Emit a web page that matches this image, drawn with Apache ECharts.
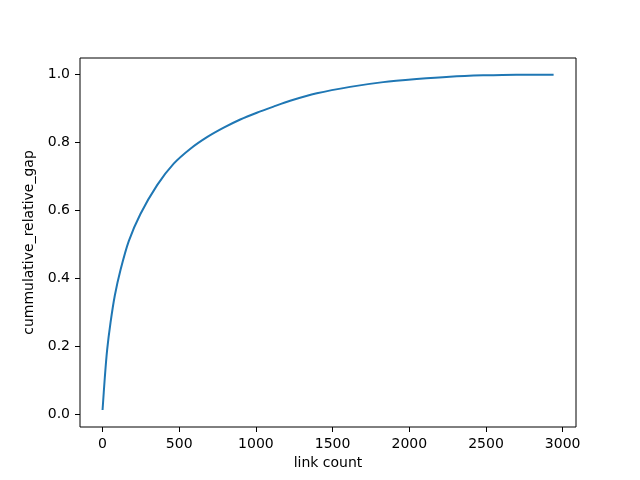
<!DOCTYPE html>
<html>
<head>
<meta charset="utf-8">
<script src="https://cdn.jsdelivr.net/npm/echarts@6/dist/echarts.min.js"></script>
<style>
  html, body { margin: 0; padding: 0; background: #fff; }
  #chart { width: 640px; height: 480px; }
</style>
</head>
<body>
<div id="chart"></div>
<script>
// 曲线数据 (link count -> cummulative_relative_gap)
var linkCount = [0, 15, 30, 52, 80, 117, 171, 247, 356, 464, 573, 681, 790, 898, 1006, 1115, 1223, 1397, 1614, 1830, 2048, 2264, 2481, 2698, 2941];
var relGap = [0.013, 0.11, 0.19, 0.27, 0.35, 0.425, 0.51, 0.59, 0.675, 0.738, 0.782, 0.816, 0.844, 0.868, 0.888, 0.906, 0.923, 0.945, 0.964, 0.978, 0.987, 0.994, 0.998, 1.0, 1.0];
var xTicks = [0, 500, 1000, 1500, 2000, 2500, 3000];
var yTicks = [0, 0.2, 0.4, 0.6, 0.8, 1.0];

var points = linkCount.map(function (x, i) { return [x, relGap[i]]; });

var myChart = echarts.init(document.getElementById('chart'));
var font = 'DejaVu Sans';

var option = {
  animation: false,
  grid: {
    left: 80, right: 64, top: 58, bottom: 53,
    show: true, borderColor: '#000', borderWidth: 1, backgroundColor: 'transparent'
  },
  xAxis: {
    type: 'value',
    min: -147, max: 3087,
    name: 'link count',
    nameLocation: 'middle',
    nameGap: 28,
    nameTextStyle: { color: '#000', fontSize: 14, fontFamily: font },
    axisLine: { show: false, onZero: false },
    splitLine: { show: false },
    axisTick: { show: true, inside: false, length: 5, lineStyle: { color: '#000' }, customValues: xTicks },
    axisLabel: {
      color: '#000', fontSize: 14, fontFamily: font, margin: 10, customValues: xTicks,
      formatter: function (v) { return String(v); }
    }
  },
  yAxis: {
    type: 'value',
    min: -0.037, max: 1.049,
    name: 'cummulative_relative_gap',
    nameLocation: 'middle',
    nameGap: 38,
    nameTextStyle: { color: '#000', fontSize: 14, fontFamily: font },
    axisLine: { show: false, onZero: false },
    splitLine: { show: false },
    axisTick: { show: true, inside: false, length: 5, lineStyle: { color: '#000' }, customValues: yTicks },
    axisLabel: {
      color: '#000', fontSize: 14, fontFamily: font, margin: 10, customValues: yTicks,
      formatter: function (v) { return v.toFixed(1); }
    }
  },
  series: [{
    type: 'line',
    data: points,
    smooth: 0.25,
    showSymbol: false,
    lineStyle: { color: '#1f77b4', width: 2 }
  }]
};

myChart.setOption(option);
</script>
</body>
</html>
